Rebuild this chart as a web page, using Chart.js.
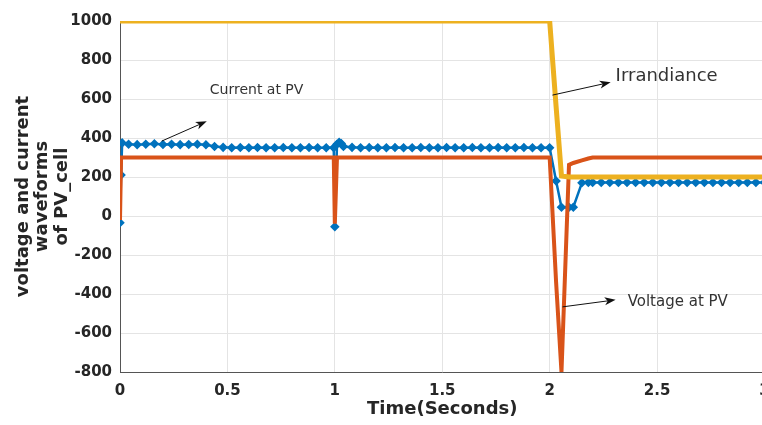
<!DOCTYPE html>
<html>
<head>
<meta charset="utf-8">
<script src="https://cdn.jsdelivr.net/npm/chart.js@4.4.1/dist/chart.umd.min.js"></script>
<style>
  html, body { margin: 0; padding: 0; background: #fff; overflow: hidden; }
  #chart { display: block; }
</style>
</head>
<body>
<canvas id="chart" width="771" height="425"></canvas>
<script>
/* eslint-disable no-undef */
const time = [
  0, 0.005, 0.01,
  0.04, 0.08, 0.12, 0.16, 0.2, 0.24, 0.28, 0.32, 0.36, 0.4, 0.44, 0.48,
  0.52, 0.56, 0.6, 0.64, 0.68, 0.72, 0.76, 0.8, 0.84, 0.88, 0.92, 0.96,
  0.995, 1.0, 1.01, 1.02, 1.03,
  1.04, 1.08, 1.12, 1.16, 1.2, 1.24, 1.28, 1.32, 1.36, 1.4, 1.44, 1.48,
  1.52, 1.56, 1.6, 1.64, 1.68, 1.72, 1.76, 1.8, 1.84, 1.88, 1.92, 1.96,
  2.0, 2.03, 2.055, 2.09, 2.11, 2.15, 2.18,
  2.2, 2.24, 2.28, 2.32, 2.36, 2.4, 2.44, 2.48, 2.52, 2.56, 2.6,
  2.64, 2.68, 2.72, 2.76, 2.8, 2.84, 2.88, 2.92, 2.96, 3.0,
];

const irradiance = [
  1000, 1000, 1000,
  1000, 1000, 1000, 1000, 1000, 1000, 1000, 1000, 1000, 1000, 1000, 1000,
  1000, 1000, 1000, 1000, 1000, 1000, 1000, 1000, 1000, 1000, 1000, 1000,
  1000, 1000, 1000, 1000, 1000,
  1000, 1000, 1000, 1000, 1000, 1000, 1000, 1000, 1000, 1000, 1000, 1000,
  1000, 1000, 1000, 1000, 1000, 1000, 1000, 1000, 1000, 1000, 1000, 1000,
  1000, 560, 205, 200, 200, 200, 200,
  200, 200, 200, 200, 200, 200, 200, 200, 200, 200, 200,
  200, 200, 200, 200, 200, 200, 200, 200, 200, 200,
];

const current = [
  -35, 210, 375,
  368, 366, 368, 370, 367, 368, 366, 367, 368, 365, 356, 352,
  350, 351, 350, 351, 350, 350, 351, 350, 350, 351, 350, 350,
  350, -55, 368, 378, 372,
  356, 352, 350, 351, 350, 350, 351, 350, 350, 351, 350, 350,
  351, 350, 350, 351, 350, 350, 351, 350, 350, 351, 350, 350,
  350, 180, 45, 45, 45, 170, 172,
  172, 172, 172, 172, 172, 172, 172, 172, 172, 172, 172,
  172, 172, 172, 172, 172, 172, 172, 172, 172, 172,
];

const voltage = [
  -20, 300, 300,
  300, 300, 300, 300, 300, 300, 300, 300, 300, 300, 300, 300,
  300, 300, 300, 300, 300, 300, 300, 300, 300, 300, 300, 300,
  300, -40, 300, 300, 300,
  300, 300, 300, 300, 300, 300, 300, 300, 300, 300, 300, 300,
  300, 300, 300, 300, 300, 300, 300, 300, 300, 300, 300, 300,
  300, -340, -800, 262, 272, 285, 295,
  300, 300, 300, 300, 300, 300, 300, 300, 300, 300, 300,
  300, 300, 300, 300, 300, 300, 300, 300, 300, 300,
];

const xTicks = [0, 0.5, 1, 1.5, 2, 2.5, 3];
const yTicks = [-800, -600, -400, -200, 0, 200, 400, 600, 800, 1000];

// text arrows, placed in data units
const notes = [
  { text: "Current at PV", x: 0.418, y: 645, size: 14, from: [0.194, 384], to: [0.404, 486] },
  { text: "Irrandiance", x: 2.307, y: 717, size: 18, from: [2.013, 620], to: [2.284, 686] },
  { text: "Voltage at PV", x: 2.363, y: -440, size: 15, from: [2.06, -466], to: [2.307, -430] },
];

const points = (vals) => time.map((t, i) => ({ x: t, y: vals[i] }));

const notesPlugin = {
  id: "notes",
  afterDatasetsDraw(chart) {
    const { ctx, scales } = chart;
    const px = (v) => scales.x.getPixelForValue(v);
    const py = (v) => scales.y.getPixelForValue(v);
    ctx.save();
    notes.forEach((n) => {
      const x1 = px(n.from[0]), y1 = py(n.from[1]);
      const x2 = px(n.to[0]), y2 = py(n.to[1]);
      const a = Math.atan2(y2 - y1, x2 - x1);
      const c = Math.cos(a), s = Math.sin(a);
      ctx.strokeStyle = "#111";
      ctx.fillStyle = "#111";
      ctx.lineWidth = 1;
      ctx.beginPath();
      ctx.moveTo(x1, y1);
      ctx.lineTo(x2 - 6 * c, y2 - 6 * s);
      ctx.stroke();
      ctx.beginPath();
      ctx.moveTo(x2, y2);
      ctx.lineTo(x2 - 11 * c + 4 * s, y2 - 11 * s - 4 * c);
      ctx.lineTo(x2 - 8 * c, y2 - 8 * s);
      ctx.lineTo(x2 - 11 * c - 4 * s, y2 - 11 * s + 4 * c);
      ctx.closePath();
      ctx.fill();
      ctx.fillStyle = "#333";
      ctx.font = n.size + "px 'DejaVu Sans'";
      ctx.textAlign = "left";
      ctx.textBaseline = "middle";
      ctx.fillText(n.text, px(n.x), py(n.y));
    });
    ctx.restore();
  },
};

const tickFont = { family: "'DejaVu Sans'", size: 15, weight: "bold" };
const titleFont = { family: "'DejaVu Sans'", size: 18, weight: "bold", lineHeight: 1.1 };

new Chart(document.getElementById("chart"), {
  type: "line",
  data: {
    datasets: [
      {
        label: "Irradiance",
        data: points(irradiance),
        borderColor: "#EDB120",
        backgroundColor: "#EDB120",
        borderWidth: 5,
        pointRadius: 0,
        order: 0,
      },
      {
        label: "Voltage at PV",
        data: points(voltage),
        borderColor: "#D95319",
        backgroundColor: "#D95319",
        borderWidth: 4,
        pointRadius: 0,
        order: 1,
      },
      {
        label: "Current at PV",
        data: points(current),
        borderColor: "#0072BD",
        backgroundColor: "#0072BD",
        borderWidth: 2.5,
        pointRadius: 3,
        pointStyle: "rectRot",
        order: 2,
      },
    ],
  },
  options: {
    responsive: false,
    animation: false,
    layout: { padding: { top: 21, left: 0, right: 0, bottom: 0 } },
    elements: { line: { tension: 0 } },
    plugins: {
      legend: { display: false },
      tooltip: { enabled: false },
    },
    scales: {
      x: {
        type: "linear",
        min: 0,
        max: 3,
        afterBuildTicks: (axis) => {
          axis.ticks = xTicks.map((v) => ({ value: v }));
        },
        afterFit: (scale) => {
          scale.height = 53;
          scale.paddingLeft = 0;
          scale.paddingRight = 0;
        },
        ticks: {
          callback: (v) => String(v),
          font: tickFont,
          color: "#262626",
          padding: 10,
          maxRotation: 0,
        },
        grid: { color: "#e4e4e4", drawTicks: false },
        border: { color: "#555", width: 1 },
        title: {
          display: true,
          text: "Time(Seconds)",
          font: titleFont,
          color: "#262626",
          padding: { top: 0, bottom: 6 },
        },
      },
      y: {
        min: -800,
        max: 1000,
        afterBuildTicks: (axis) => {
          axis.ticks = yTicks.map((v) => ({ value: v }));
        },
        afterFit: (scale) => {
          scale.width = 120;
        },
        ticks: {
          callback: (v) => String(v),
          font: tickFont,
          color: "#262626",
          padding: 8,
        },
        grid: { color: "#e4e4e4", drawTicks: false },
        border: { color: "#555", width: 1 },
        title: {
          display: true,
          text: ["voltage and current", "waveforms", "of PV_cell"],
          font: titleFont,
          color: "#262626",
          padding: { top: 13, bottom: 0 },
        },
      },
    },
  },
  plugins: [notesPlugin],
});
</script>
</body>
</html>
